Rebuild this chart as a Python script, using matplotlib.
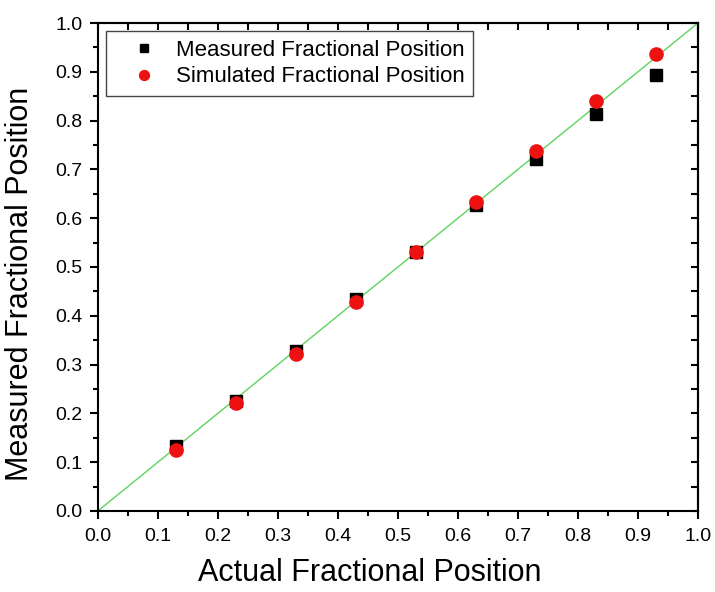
import matplotlib
matplotlib.use("Agg")
import matplotlib.pyplot as plt
from matplotlib.ticker import MultipleLocator

plt.rcParams['font.family'] = ['Liberation Sans', 'DejaVu Sans']

actual = [0.13, 0.23, 0.33, 0.43, 0.53, 0.63, 0.73, 0.83, 0.93]
measured = [0.133, 0.226, 0.328, 0.435, 0.530, 0.628, 0.722, 0.813, 0.893]
simulated = [0.125, 0.222, 0.322, 0.428, 0.530, 0.633, 0.737, 0.840, 0.936]
ideal = [0.0, 1.0]

fig = plt.figure(figsize=(7.15, 5.92), dpi=100)
ax = fig.add_axes([0.137, 0.137, 0.839, 0.824])

ax.plot(ideal, ideal, color='#5fd35f', lw=1.0, zorder=1)
ax.plot(actual, measured, 's', color='black', ms=8.5, ls='none',
        label='Measured Fractional Position', zorder=2)
ax.plot(actual, simulated, 'o', color='#ee1111', ms=9.5, ls='none',
        label='Simulated Fractional Position', zorder=3)

ax.set_xlim(0, 1)
ax.set_ylim(0, 1)

# bottom/left ticks point out, top/right mirror ticks point in
ax.tick_params(which='both', direction='out', width=1.5, labelsize=14)
ax.tick_params(which='major', length=6)
ax.tick_params(which='minor', length=3.5)
ax.tick_params(axis='x', which='major', pad=6)
ax.tick_params(axis='y', which='major', pad=5)
top = ax.secondary_xaxis('top')
right = ax.secondary_yaxis('right')
for a in (ax.xaxis, ax.yaxis, top.xaxis, right.yaxis):
    a.set_major_locator(MultipleLocator(0.1))
    a.set_minor_locator(MultipleLocator(0.05))
for sa in (top, right):
    sa.tick_params(which='both', direction='in', width=1.5, length=5,
                   labeltop=False, labelright=False)
    for s in sa.spines.values():
        s.set_linewidth(1.5)
for s in ax.spines.values():
    s.set_linewidth(1.5)

ax.set_xlabel('Actual Fractional Position', fontsize=22)
ax.xaxis.set_label_coords(0.453, -0.096)
ax.set_ylabel('Measured Fractional Position', fontsize=22)
ax.yaxis.set_label_coords(-0.105, 0.466)

leg = ax.legend(loc='upper left', fontsize=16, fancybox=False,
                edgecolor='#444444', framealpha=1, handlelength=2.6,
                handletextpad=0.15, borderpad=0.4, labelspacing=0.25,
                markerscale=0.75, borderaxespad=0,
                bbox_to_anchor=(0.013, 0.984))
leg.get_frame().set_linewidth(1.0)

plt.savefig('out.png', dpi=100)
